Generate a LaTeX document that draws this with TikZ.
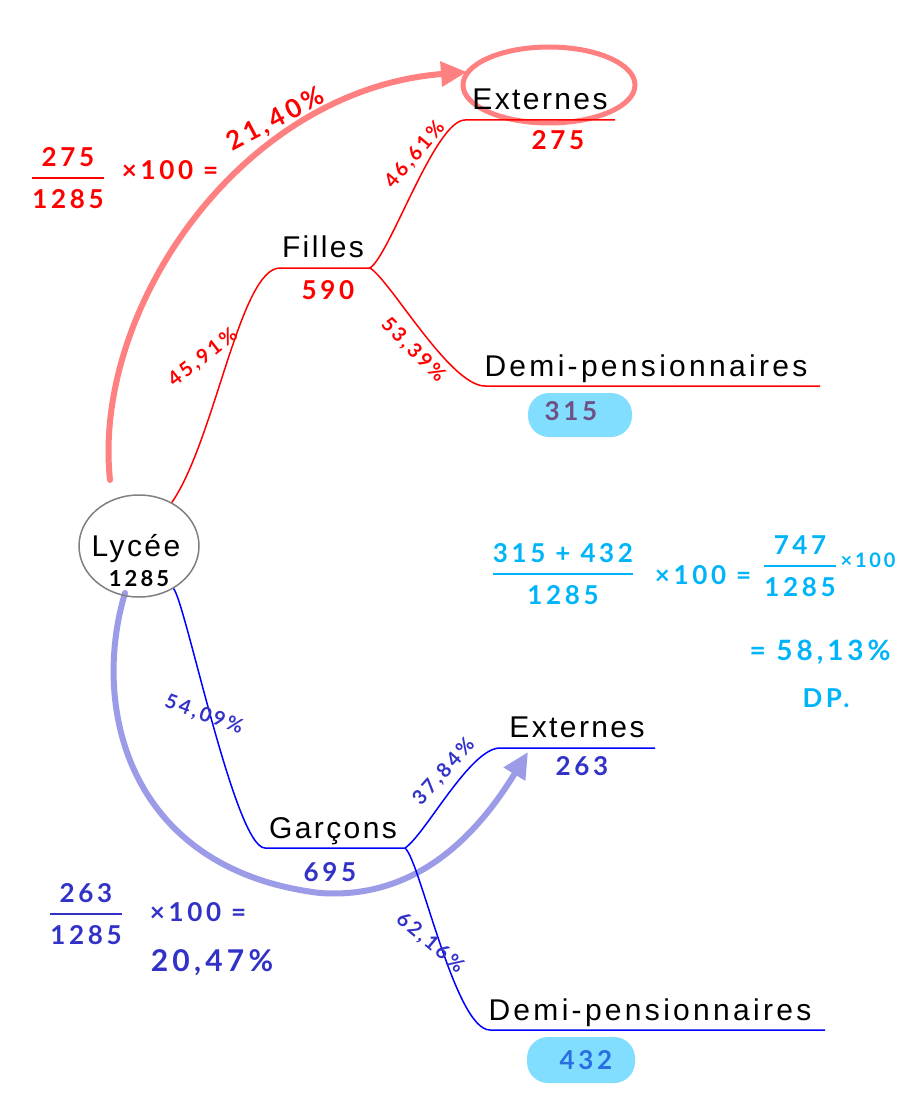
\documentclass[tikz,border=0pt]{standalone}
\usepackage{fontspec}
\setmainfont{Liberation Sans}
\newfontfamily\lblfont[LetterSpace=8]{Liberation Sans}
\newfontfamily\widefont[LetterSpace=11]{Liberation Sans}
\newfontfamily\handfont[LetterSpace=14]{Lato}
\usetikzlibrary{arrows.meta,shapes.geometric}
\definecolor{inkred}{RGB}{255,0,0}
\definecolor{inkblue}{RGB}{50,50,200}
\definecolor{markred}{RGB}{255,128,128}
\definecolor{markblue}{RGB}{155,155,232}
\definecolor{inkcyan}{RGB}{0,180,250}
\definecolor{blob}{RGB}{130,222,255}
\definecolor{plum}{RGB}{110,80,130}
\definecolor{deepsky}{RGB}{40,110,225}
\setlength\arrayrulewidth{2pt}
\newcommand\hwfrac[2]{\begin{tabular}{@{}c@{}}#1\\[2pt]\hline\rule{0pt}{1.15em}#2\end{tabular}}
\begin{document}
\begin{tikzpicture}[x=1pt,y=1pt,
    lbl/.style={font=\lblfont\fontsize{30}{32}\selectfont,anchor=base,inner sep=0pt},
    lblwide/.style={font=\widefont\fontsize{30}{32}\selectfont,anchor=base,inner sep=0pt},
    hand/.style={font=\handfont\bfseries\fontsize{26}{28}\selectfont,inner sep=0pt},
    pct/.style={font=\handfont\bfseries\fontsize{20}{22}\selectfont,inner sep=0pt},
    branch/.style={line width=1.5pt},
    marker/.style={line width=6pt,line cap=round},
    blobbox/.style={fill=blob,rounded corners=21pt,minimum width=104pt,minimum height=44pt,inner sep=0pt}]
    \useasboundingbox (0,0) rectangle (904,-1110);
    \fill[white] (0,0) rectangle (904,-1110);
    \coordinate (rs) at (110,-480);
    \coordinate (re) at (467,-72);
    \coordinate (bs) at (125,-593);
    \coordinate (be) at (528,-752);
    \draw[marker,markred,-{Triangle[length=26pt,width=24pt]}] (rs) .. controls (92,-310) and (240,-90) .. (re);
    \draw[marker,markblue,-{Triangle[length=26pt,width=24pt]}] (bs) .. controls (90,-710) and (130,-870) .. (320,-893) .. controls (420,-900) and (480,-830) .. (be);
    \node[ellipse,draw=markred,line width=5pt,minimum width=172,minimum height=76] (circ) at (549,-85) {};
    \node[ellipse,draw=gray,line width=1.5pt,minimum width=120,minimum height=102] (lycee) at (139,-546) {};
    \node[lbl] (lyctxt) at (136,-556) {Lycée};
    \node[hand,font=\handfont\bfseries\fontsize{22}{24}\selectfont] (lycnum) at (139,-579) {1285};
    \coordinate (fil-l) at (280,-268);
    \coordinate (fil-r) at (370,-268);
    \coordinate (fe-l) at (465,-120);
    \coordinate (fe-r) at (615,-120);
    \coordinate (fd-l) at (485,-386);
    \coordinate (fd-r) at (820,-386);
    \coordinate (gar-l) at (265,-848);
    \coordinate (gar-r) at (405,-848);
    \coordinate (ge-l) at (500,-748);
    \coordinate (ge-r) at (655,-748);
    \coordinate (gd-l) at (490,-1030);
    \coordinate (gd-r) at (825,-1030);
    \draw[branch,inkred] (lycee.53) .. controls (215,-440) and (240,-268) .. (fil-l) -- (fil-r);
    \draw[branch,inkred] (fil-r) .. controls (390,-255) and (435,-120) .. (fe-l) -- (fe-r);
    \draw[branch,inkred] (fil-r) .. controls (390,-280) and (450,-386) .. (fd-l) -- (fd-r);
    \draw[branch,blue] (lycee.-51) .. controls (185,-600) and (235,-848) .. (gar-l) -- (gar-r);
    \draw[branch,blue] (gar-r) .. controls (425,-835) and (470,-748) .. (ge-l) -- (ge-r);
    \draw[branch,blue] (gar-r) .. controls (420,-860) and (455,-1030) .. (gd-l) -- (gd-r);
    \node[lbl] (filles) at (323,-257) {Filles};
    \node[lbl] (fext) at (540,-110) {Externes};
    \node[lblwide] (fdp) at (646,-376) {Demi-pensionnaires};
    \node[lbl] (garcons) at (333,-838) {Garçons};
    \node[lbl] (gext) at (577,-737) {Externes};
    \node[lblwide] (gdp) at (650,-1020) {Demi-pensionnaires};
    \node[hand,inkred] (fnum) at (328,-290) {590};
    \node[hand,inkred] (fenum) at (558,-140) {275};
    \node[blobbox] (fdblob) at (580,-415) {};
    \node[hand,plum] (fdnum) at (571,-411) {315};
    \node[hand,inkblue] (gnum) at (330,-872) {695};
    \node[hand,inkblue] (genum) at (582,-766) {263};
    \node[blobbox,minimum width=108pt,minimum height=46pt] (gdblob) at (581,-1060) {};
    \node[hand,deepsky] (gdnum) at (586,-1060) {432};
    \node[pct,inkred,rotate=38] (p1) at (203,-358) {45,91\%};
    \node[pct,inkred,rotate=50] (p2) at (415,-155) {46,61\%};
    \node[pct,inkred,rotate=-45] (p3) at (413,-350) {53,39\%};
    \node[pct,inkblue,rotate=-20] (p4) at (204,-715) {54,09\%};
    \node[pct,inkblue,rotate=48] (p5) at (444,-772) {37,84\%};
    \node[pct,inkblue,rotate=-40] (p6) at (430,-943) {62,16\%};
    \node[hand,inkred] (rfrac) at (68,-182) {\hwfrac{275}{1285}};
    \node[hand,inkred] (rtimes) at (170,-170) {×100 =};
    \node[hand,inkred,rotate=28] (rres) at (276,-120) {21,40\%};
    \node[hand,inkblue] (bfrac) at (86,-918) {\hwfrac{263}{1285}};
    \node[hand,inkblue] (btimes) at (198,-912) {×100 =};
    \node[hand,inkblue,font=\handfont\bfseries\fontsize{30}{32}\selectfont] (bres) at (212,-963) {20,47\%};
    \node[hand,inkcyan] (cfrac) at (563,-578) {\hwfrac{315 + 432}{1285}};
    \node[hand,inkcyan] (ctimes) at (703,-575) {×100 =};
    \node[hand,inkcyan] (cfrac2) at (800,-570) {\hwfrac{747}{1285}};
    \node[hand,inkcyan,font=\handfont\bfseries\fontsize{20}{22}\selectfont] (ctimes2) at (868,-560) {×100};
    \node[hand,inkcyan,font=\handfont\bfseries\fontsize{28}{30}\selectfont] (cres) at (820,-652) {= 58,13\%};
    \node[hand,inkcyan] (cdp) at (826,-698) {DP.};
\end{tikzpicture}
\end{document}
